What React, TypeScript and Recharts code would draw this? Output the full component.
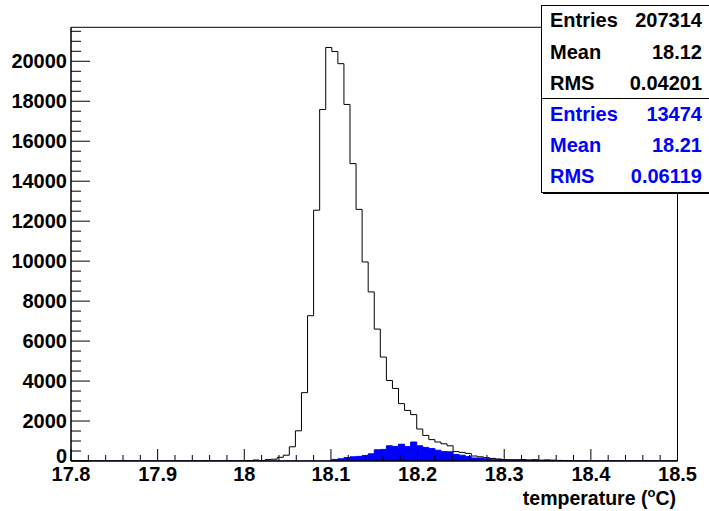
import { ComposedChart, Area, Line, XAxis, YAxis, ReferenceArea } from 'recharts';

// histogram binning: 100 bins from 17.8 to 18.5
const BIN_START = 17.8;
const BIN_WIDTH = 0.007;
const X_MIN = 17.8;
const X_MAX = 18.5;
const Y_MAX = 21700;

// all entries (black outline), one count per bin
const allCounts = [
  0, 0, 0, 0, 0, 0, 0, 0, 0, 0,
  0, 0, 0, 0, 0, 0, 0, 0, 0, 0,
  0, 0, 10, 0, 0, 0, 0, 0, 10, 20,
  50, 20, 70, 90, 185, 290, 710, 1510, 3420, 7270,
  12550, 17590, 20690, 20490, 19880, 17840, 14880, 12590, 9960, 8460,
  6600, 5200, 4030, 3630, 2870, 2530, 2320, 1600, 1280, 1070,
  950, 860, 760, 470, 430, 380, 250, 210, 170, 130,
  100, 70, 60, 60, 70, 50, 60, 40, 50, 40,
  30, 20, 10, 10, 10, 0, 10, 0, 0, 0,
  0, 0, 0, 0, 0, 0, 0, 0, 0, 0,
];

// selected entries (blue fill)
const blueCounts = [
  0, 0, 0, 0, 0, 0, 0, 0, 0, 0,
  0, 0, 0, 0, 0, 0, 0, 0, 0, 0,
  0, 0, 10, 0, 0, 0, 0, 0, 0, 0,
  0, 0, 0, 0, 0, 0, 0, 0, 0, 0,
  0, 0, 0, 80, 110, 170, 210, 230, 270, 360,
  560, 580, 760, 730, 840, 720, 950, 760, 680, 620,
  540, 470, 460, 330, 290, 220, 150, 150, 110, 90,
  80, 60, 50, 50, 60, 40, 50, 30, 40, 30,
  20, 10, 10, 0, 0, 0, 0, 0, 0, 0,
  0, 0, 0, 0, 0, 0, 0, 0, 0, 0,
];

const xMajorTicks = [17.8, 17.9, 18.0, 18.1, 18.2, 18.3, 18.4, 18.5];
const xMinorOffsets = [0.02, 0.04, 0.06, 0.08];
const yMajorTicks = [0, 2000, 4000, 6000, 8000, 10000, 12000, 14000, 16000, 18000, 20000];
const yMinorOffsets = [500, 1000, 1500];

const statLabels = ['Entries', 'Mean', 'RMS'];
const allStats = ['207314', '18.12', '0.04201'];
const blueStats = ['13474', '18.21', '0.06119'];

const xTicks = [
  ...xMajorTicks,
  ...xMajorTicks.slice(0, -1).flatMap((t) => xMinorOffsets.map((o) => t + o)),
];
const yTicks = [
  ...yMajorTicks,
  ...yMajorTicks.flatMap((t) => yMinorOffsets.map((o) => t + o)).filter((v) => v < Y_MAX),
];

const rows = [...allCounts, allCounts[allCounts.length - 1]].map((c, i) => ({
  x: BIN_START + i * BIN_WIDTH,
  all: c,
  blue: i < blueCounts.length ? blueCounts[i] : blueCounts[blueCounts.length - 1],
}));

const FONT = '"Liberation Sans", Arial, Helvetica, sans-serif';

const isMajorX = (v: number) => xMajorTicks.some((t) => Math.abs(t - v) < 1e-6);
const isMajorY = (v: number) => yMajorTicks.includes(v);

const XTick = (props: any) => {
  const { x, y, payload } = props;
  const major = isMajorX(payload.value);
  return (
    <g>
      <line x1={x} x2={x} y1={y} y2={y - (major ? 12 : 6)} stroke="#000" />
      {major && (
        <text x={x} y={y + 20} textAnchor="middle" fontFamily={FONT} fontWeight="bold" fontSize={20} fill="#000">
          {String(Number(payload.value.toFixed(1)))}
        </text>
      )}
    </g>
  );
};

const YTick = (props: any) => {
  const { x, y, payload } = props;
  const major = isMajorY(payload.value);
  return (
    <g>
      <line x1={x} x2={x + (major ? 19 : 10)} y1={y} y2={y} stroke="#000" />
      {major && (
        <text
          x={x - 4}
          y={payload.value === 0 ? y + 2 : y + 7}
          textAnchor="end"
          fontFamily={FONT}
          fontWeight="bold"
          fontSize={20}
          fill="#000"
        >
          {payload.value}
        </text>
      )}
    </g>
  );
};

const rowBaselines = [27, 58.5, 89.5, 121, 152, 183];

export default function App() {
  return (
    <div style={{ position: 'absolute', left: 0, top: 0, width: 709, height: 511, overflow: 'hidden', background: '#fff' }}>
      <ComposedChart
        width={709}
        height={511}
        data={rows}
        margin={{ top: 27.3, right: 31.5, bottom: 20, left: 11 }}
      >
        <XAxis
          dataKey="x"
          type="number"
          domain={[X_MIN, X_MAX]}
          ticks={xTicks}
          interval={0}
          tickSize={0}
          tickMargin={0}
          tickLine={false}
          tick={XTick}
          axisLine={{ stroke: '#000' }}
          height={30}
          allowDataOverflow
        />
        <YAxis
          type="number"
          domain={[0, Y_MAX]}
          ticks={yTicks}
          interval={0}
          tickSize={0}
          tickMargin={0}
          tickLine={false}
          tick={YTick}
          axisLine={{ stroke: '#000' }}
          width={60}
          allowDataOverflow
        />
        <Area
          dataKey="blue"
          type="stepAfter"
          stroke="#0000ff"
          fill="#0000ff"
          fillOpacity={1}
          strokeWidth={1}
          dot={false}
          activeDot={false}
          isAnimationActive={false}
        />
        <Line
          dataKey="all"
          type="stepAfter"
          stroke="#000"
          strokeWidth={1}
          dot={false}
          activeDot={false}
          isAnimationActive={false}
        />
        <ReferenceArea x1={X_MIN} x2={X_MAX} y1={0} y2={Y_MAX} fill="none" stroke="#000" ifOverflow="visible" />
      </ComposedChart>

      <svg
        width={709}
        height={511}
        style={{ position: 'absolute', left: 0, top: 0, pointerEvents: 'none' }}
        fontFamily={FONT}
        fontWeight="bold"
      >
        {/* stats box */}
        <rect x={541.5} y={5.5} width={200} height={187} fill="#fff" stroke="#000" />
        <line x1={543} x2={709} y1={193.5} y2={193.5} stroke="#000" />
        <line x1={541} x2={709} y1={98.5} y2={98.5} stroke="#000" />
        {[...allStats, ...blueStats].map((val, i) => {
          const color = i < 3 ? '#000' : '#0000ff';
          return (
            <g key={i}>
              <text x={550} y={rowBaselines[i]} fontSize={20} fill={color}>
                {statLabels[i % 3]}
              </text>
              <text x={702} y={rowBaselines[i]} fontSize={20} fill={color} textAnchor="end">
                {val}
              </text>
            </g>
          );
        })}
        {/* axis title */}
        <text x={676} y={505} fontSize={19.5} textAnchor="end" fill="#000">
          temperature (<tspan dy={-8} fontSize={13}>o</tspan>
          <tspan dy={8}>C)</tspan>
        </text>
      </svg>
    </div>
  );
}
